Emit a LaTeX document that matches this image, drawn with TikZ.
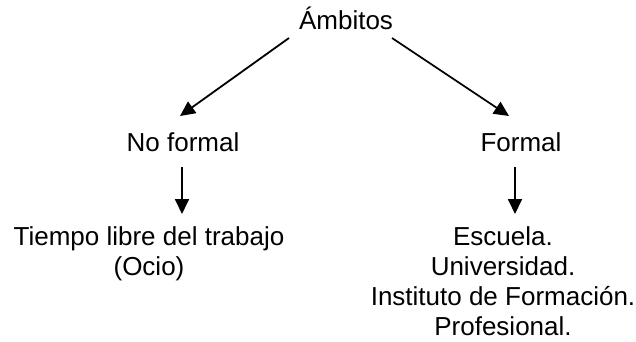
\documentclass[tikz,border=0pt]{standalone}
\usepackage{fontspec}
\setmainfont{Liberation Sans}
\usetikzlibrary{arrows.meta}
\begin{document}
\begin{tikzpicture}[x=1pt,y=-1pt,
  lbl/.style={inner sep=0pt, font=\fontsize{26}{30}\selectfont, align=center},
  arr/.style={line width=1.8pt, -{Triangle[length=15pt,width=14pt]}}]
\useasboundingbox (0,0) rectangle (636,341);
\node[lbl, anchor=base] (amb) at (346,29.5) {Ámbitos};
\node[lbl, anchor=base] (nf) at (183,151) {No formal};
\node[lbl, anchor=base] (f) at (521,151) {Formal};
\node[lbl, anchor=north] (ocio) at (149,226) {Tiempo libre del trabajo\\(Ocio)};
\node[lbl, anchor=north] (esc) at (503,226) {Escuela.\\Universidad.\\Instituto de Formación.\\Profesional.};
\coordinate (a1) at (289,38);
\coordinate (a2) at (180,116);
\coordinate (b1) at (392,38);
\coordinate (b2) at (509,116);
\coordinate (c1) at (182,167);
\coordinate (c2) at (182,214);
\coordinate (d1) at (515,167);
\coordinate (d2) at (515,214);
\draw[arr] (a1) -- (a2);
\draw[arr] (b1) -- (b2);
\draw[arr] (c1) -- (c2);
\draw[arr] (d1) -- (d2);
\end{tikzpicture}
\end{document}
